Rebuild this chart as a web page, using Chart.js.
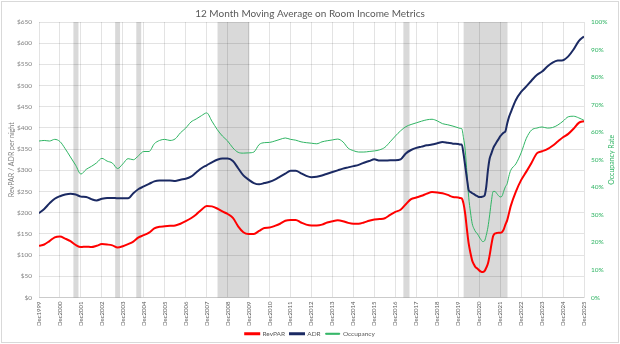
<!DOCTYPE html>
<html>
<head>
<meta charset="utf-8">
<title>Room Income Metrics</title>
<script src="https://cdn.jsdelivr.net/npm/chart.js@4.4.1/dist/chart.umd.min.js"></script>
<style>
    html, body { margin: 0; padding: 0; background: #fff; }
    #wrap { position: relative; width: 620px; height: 344px; }
</style>
</head>
<body>
<div id="wrap"><canvas id="chart" width="620" height="344"></canvas></div>
<script>
// months after Dec1999 (quarterly, monthly through the 2020-2022 slump)
const months = [
    0, 3, 6, 9, 12, 15, 18, 21, 24, 27, 30, 33, 36, 39, 42, 45, 48, 51, 54, 57,
    60, 63, 66, 69, 72, 75, 78, 81, 84, 87, 90, 93, 96, 99, 102, 105, 108, 111, 114, 117,
    120, 123, 126, 129, 132, 135, 138, 141, 144, 147, 150, 153, 156, 159, 162, 165, 168, 171, 174, 177,
    180, 183, 186, 189, 192, 195, 198, 201, 204, 207, 210, 213, 216, 219, 222, 225, 228, 231, 234, 237,
    240, 241, 242, 243, 244, 245, 246, 247, 248, 249, 250, 251, 252, 253, 254, 255, 256, 257, 258, 259,
    260, 261, 262, 263, 264, 265, 266, 267, 268, 269, 270,
    273, 276, 279, 282, 285, 288, 291, 294, 297, 300, 303, 306, 309, 312
];

const revpar = [
    122, 125, 133, 142, 144, 139, 133, 124, 119, 120, 119, 122, 126, 125, 123, 118, 121, 126, 132, 142,
    147, 153, 163, 167, 168, 169, 170, 174, 180, 187, 196, 207, 216, 215, 210, 203, 197, 188, 168, 154,
    150, 150, 157, 164, 165, 169, 174, 181, 183, 183, 177, 172, 170, 170, 172, 177, 180, 182, 180, 176,
    174, 174, 177, 181, 184, 185, 187, 195, 202, 207, 220, 232, 236, 240, 245, 249, 248, 246, 242, 237,
    236, 235, 234, 222, 197, 160, 127, 105, 87, 78, 71, 68, 64, 61, 60, 62, 70, 80, 100, 125,
    145, 151, 152, 153, 153, 154, 160, 172, 182, 198, 215,
    250, 277, 297, 318, 340, 345, 350, 358, 368, 378, 386, 398, 412, 416
];

const adr = [
    199, 209, 222, 233, 239, 243, 245, 243, 238, 237, 232, 229, 233, 235, 235, 234, 234, 234, 246, 256,
    262, 268, 274, 276, 276, 276, 275, 278, 280, 285, 295, 305, 312, 319, 325, 328, 328, 322, 305, 288,
    278, 270, 267, 270, 273, 278, 285, 292, 299, 299, 293, 287, 284, 285, 288, 292, 296, 300, 304, 307,
    310, 313, 318, 322, 326, 323, 323, 324, 324, 326, 340, 348, 353, 356, 359, 361, 364, 367, 365, 363,
    362, 361, 361, 340, 310, 280, 253, 249, 246, 244, 241, 239, 237, 237, 238, 240, 260, 300, 328, 340,
    352, 360, 367, 373, 380, 385, 389, 392, 410, 425, 436,
    466, 485, 498, 512, 525, 533, 545, 554, 559, 560, 569, 585, 605, 616
];

const occupancy = [
    56.8, 57.0, 56.8, 57.4, 56.6, 54.0, 51.0, 48.0, 44.8, 46.5, 47.6, 48.9, 50.5, 49.5, 48.8, 46.8, 48.5, 50.4, 50.0, 51.5,
    53.0, 53.0, 55.8, 57.0, 57.4, 57.0, 57.6, 59.8, 61.5, 63.7, 64.8, 66.0, 67.0, 64.0, 61.0, 58.6, 56.8, 54.3, 52.7, 52.4,
    52.5, 52.8, 55.5, 56.2, 56.3, 56.8, 57.4, 57.9, 57.4, 57.1, 56.5, 56.2, 56.0, 55.8, 56.5, 56.9, 57.2, 57.5, 56.5, 54.2,
    53.3, 52.8, 52.8, 53.0, 53.2, 53.6, 54.5, 56.5, 58.6, 60.5, 62.0, 62.8, 63.4, 64.0, 64.5, 64.7, 64.1, 63.1, 62.7, 62.2,
    61.6, 61.4, 61.3, 58.0, 53.5, 45.0, 36.4, 31.0, 26.8, 25.0, 23.8, 23.1, 22.0, 21.0, 20.3, 20.5, 22.5, 25.5, 30.0, 35.0,
    38.5, 38.5, 37.8, 37.0, 36.5, 36.7, 38.5, 40.2, 41.3, 44.0, 46.1,
    48.5, 52.5, 57.8, 60.8, 61.5, 61.9, 61.5, 61.7, 62.6, 64.0, 65.6, 65.8, 65.2, 64.3
];

// shaded downturn periods, in months after Dec1999
const slumps = [[19.7, 22.6], [43.6, 46.4], [55.7, 58.5], [102.2, 120.4], [208.6, 212.1], [243.1, 268.2]];

const firstYear = 1999,
    grey = "#595959",
    green = "#2fb463",
    gridColor = "rgba(0,0,0,0.11)";

Chart.defaults.font.family = "Lato, 'Open Sans', sans-serif";
Chart.defaults.color = grey;

function points(values) {
    return values.map((v, i) => ({ x: months[i], y: v }));
}

const shade = {
    id: "shade",
    beforeDraw(chart) {
        const { ctx, chartArea: a, scales: { x } } = chart;
        ctx.save();
        ctx.fillStyle = "#d9d9d9";
        slumps.forEach(([from, to]) => {
            const l = x.getPixelForValue(from),
                r = x.getPixelForValue(to);
            ctx.fillRect(l, a.top, r - l, a.bottom - a.top);
        });
        ctx.restore();
    }
};

// frame and right-hand axis title (reads bottom to top like the left one)
const frame = {
    id: "frame",
    afterDraw(chart) {
        const { ctx, chartArea: a } = chart;
        ctx.save();
        ctx.strokeStyle = "#d9d9d9";
        ctx.lineWidth = 1;
        ctx.strokeRect(1.5, 1.5, chart.width - 3, chart.height - 3);
        ctx.translate(chart.width - 8, (a.top + a.bottom) / 2);
        ctx.rotate(-Math.PI / 2);
        ctx.fillStyle = green;
        ctx.font = "7px Lato, 'Open Sans', sans-serif";
        ctx.textAlign = "center";
        ctx.textBaseline = "middle";
        ctx.fillText("Occupancy Rate", 0, 0);
        ctx.restore();
    }
};

new Chart(document.getElementById("chart"), {
    type: "line",
    data: {
        datasets: [{
            label: "RevPAR",
            data: points(revpar),
            borderColor: "#ff0000",
            backgroundColor: "#ff0000",
            borderWidth: 2,
            yAxisID: "y",
        }, {
            label: "ADR",
            data: points(adr),
            borderColor: "#1b2a63",
            backgroundColor: "#1b2a63",
            borderWidth: 2,
            yAxisID: "y",
        }, {
            label: "Occupancy",
            data: points(occupancy),
            borderColor: green,
            backgroundColor: green,
            borderWidth: 1,
            yAxisID: "y1",
        }]
    },
    options: {
        responsive: false,
        animation: false,
        elements: {
            point: { radius: 0 },
            line: { cubicInterpolationMode: "monotone" }
        },
        layout: { padding: { left: 0, right: 0, top: 0, bottom: -3 } },
        plugins: {
            title: {
                display: true,
                text: "12 Month Moving Average on Room Income Metrics",
                color: grey,
                font: { size: 10, weight: "normal" },
                padding: { top: 8, bottom: 2 }
            },
            legend: {
                position: "bottom",
                labels: {
                    boxWidth: 14,
                    boxHeight: 1,
                    padding: 5,
                    color: grey,
                    font: { size: 6.5 }
                }
            },
            tooltip: { enabled: false }
        },
        scales: {
            x: {
                type: "linear",
                min: 0,
                max: 312,
                afterFit: s => { s.height = 28; },
                grid: { color: gridColor, drawTicks: false },
                border: { color: gridColor },
                ticks: {
                    stepSize: 12,
                    autoSkip: false,
                    minRotation: 90,
                    maxRotation: 90,
                    padding: 4,
                    color: grey,
                    font: { size: 6 },
                    callback: v => "Dec" + (firstYear + v / 12)
                }
            },
            y: {
                position: "left",
                min: 0,
                max: 650,
                afterFit: s => { s.width = 39; },
                grid: { color: gridColor, drawTicks: false },
                border: { display: false },
                ticks: {
                    stepSize: 50,
                    padding: 7,
                    color: "#7f7f7f",
                    font: { size: 6.5 },
                    callback: v => "$" + v
                },
                title: {
                    display: true,
                    text: "RevPAR / ADR per night",
                    color: "#7f7f7f",
                    font: { size: 7 },
                    padding: { top: 8, bottom: 0 }
                }
            },
            y1: {
                position: "right",
                min: 0,
                max: 100,
                afterFit: s => { s.width = 36; },
                grid: { drawOnChartArea: false, drawTicks: false },
                border: { display: false },
                ticks: {
                    stepSize: 10,
                    padding: 7,
                    color: green,
                    font: { size: 6.5 },
                    callback: v => v + "%"
                }
            }
        }
    },
    plugins: [shade, frame]
});
</script>
</body>
</html>
